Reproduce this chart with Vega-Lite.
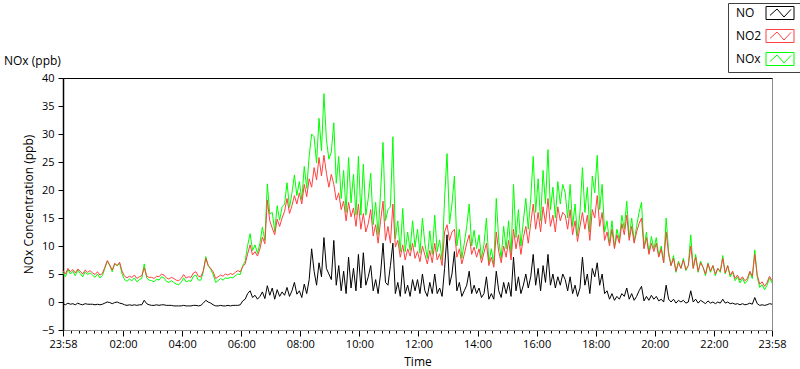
{
"$schema":"https://vega.github.io/schema/vega-lite/v6.json",
"width":709,"height":252,
"autosize":{"type":"none"},
"padding":{"left":63,"top":78,"right":28,"bottom":39},
"background":"white",
"config":{"view":{"stroke":"#8c8c8c","strokeWidth":1},"font":"Open Sans",
 "axis":{"labelFont":"Open Sans","titleFont":"Open Sans","labelColor":"#000","titleColor":"#000","tickColor":"#000","grid":false,"titleFontWeight":"normal"}},
"title":{"text":"NOx (ppb)","anchor":"start","frame":"group","dx":-59,"dy":86,"offset":12,"baseline":"alphabetic","fontSize":12,"fontWeight":"normal","font":"Open Sans","color":"#000"},
"data":{"values":[
{"m":-2,"a":-0.3,"b":5.6,"c":5.3},{"m":3,"a":-0.5,"b":5.0,"c":4.5},{"m":8,"a":-0.2,"b":6.0,"c":5.8},{"m":13,"a":-0.4,"b":5.4,"c":5.0},{"m":18,"a":-0.3,"b":5.8,"c":5.5},{"m":23,"a":-0.5,"b":5.2,"c":4.7},{"m":28,"a":-0.2,"b":5.9,"c":5.7},{"m":33,"a":-0.4,"b":5.5,"c":5.1},{"m":38,"a":-0.5,"b":5.0,"c":4.5},{"m":43,"a":-0.3,"b":5.7,"c":5.4},{"m":48,"a":-0.4,"b":5.3,"c":4.9},{"m":53,"a":-0.4,"b":5.6,"c":5.2},
{"m":58,"a":-0.4,"b":5.2,"c":4.8},{"m":63,"a":-0.5,"b":4.9,"c":4.4},{"m":68,"a":-0.4,"b":5.4,"c":5.0},{"m":73,"a":-0.5,"b":4.8,"c":4.3},{"m":78,"a":-0.4,"b":5.1,"c":4.7},{"m":83,"a":-0.2,"b":6.2,"c":6.0},{"m":88,"a":0.0,"b":7.4,"c":7.3},{"m":93,"a":-0.1,"b":6.6,"c":6.5},{"m":98,"a":-0.3,"b":5.7,"c":5.4},{"m":103,"a":-0.1,"b":6.9,"c":6.8},{"m":108,"a":0.0,"b":6.5,"c":6.5},{"m":113,"a":-0.2,"b":7.1,"c":6.9},
{"m":118,"a":-0.3,"b":5.5,"c":5.0},{"m":123,"a":-0.5,"b":4.6,"c":4.0},{"m":128,"a":-0.6,"b":4.3,"c":3.7},{"m":133,"a":-0.5,"b":4.6,"c":4.1},{"m":138,"a":-0.6,"b":4.4,"c":3.8},{"m":143,"a":-0.5,"b":4.8,"c":4.3},{"m":148,"a":-0.6,"b":4.2,"c":3.6},{"m":153,"a":-0.5,"b":4.5,"c":4.0},{"m":158,"a":-0.5,"b":4.7,"c":4.2},{"m":163,"a":0.3,"b":6.1,"c":6.8},{"m":168,"a":-0.3,"b":4.6,"c":4.3},{"m":173,"a":-0.5,"b":4.4,"c":3.9},
{"m":178,"a":-0.6,"b":4.4,"c":3.8},{"m":183,"a":-0.6,"b":4.2,"c":3.6},{"m":188,"a":-0.5,"b":4.6,"c":4.1},{"m":193,"a":-0.6,"b":4.5,"c":3.9},{"m":198,"a":-0.5,"b":5.0,"c":4.5},{"m":203,"a":-0.5,"b":4.8,"c":4.3},{"m":208,"a":-0.6,"b":4.3,"c":3.7},{"m":213,"a":-0.6,"b":4.1,"c":3.5},{"m":218,"a":-0.6,"b":4.4,"c":3.8},{"m":223,"a":-0.7,"b":4.2,"c":3.5},{"m":228,"a":-0.7,"b":3.9,"c":3.2},{"m":233,"a":-0.7,"b":3.8,"c":3.1},
{"m":238,"a":-0.7,"b":4.2,"c":3.5},{"m":243,"a":-0.6,"b":4.9,"c":4.3},{"m":248,"a":-0.7,"b":4.3,"c":3.6},{"m":253,"a":-0.7,"b":4.5,"c":3.8},{"m":258,"a":-0.7,"b":4.4,"c":3.7},{"m":263,"a":-0.6,"b":5.2,"c":4.6},{"m":268,"a":-0.6,"b":5.4,"c":4.8},{"m":273,"a":-0.7,"b":4.6,"c":3.9},{"m":278,"a":-0.6,"b":4.5,"c":3.9},{"m":283,"a":-0.2,"b":5.6,"c":5.4},{"m":288,"a":0.3,"b":7.8,"c":8.1},{"m":293,"a":0.0,"b":6.5,"c":6.5},
{"m":298,"a":-0.2,"b":6.0,"c":5.8},{"m":303,"a":-0.5,"b":5.4,"c":4.9},{"m":308,"a":-0.7,"b":4.2,"c":3.5},{"m":313,"a":-0.7,"b":4.5,"c":3.8},{"m":318,"a":-0.6,"b":4.8,"c":4.2},{"m":323,"a":-0.7,"b":4.6,"c":3.9},{"m":328,"a":-0.7,"b":5.0,"c":4.3},{"m":333,"a":-0.6,"b":4.8,"c":4.2},{"m":338,"a":-0.7,"b":5.1,"c":4.4},{"m":343,"a":-0.6,"b":4.9,"c":4.3},{"m":348,"a":-0.6,"b":5.3,"c":4.7},{"m":353,"a":-0.6,"b":5.6,"c":5.0},
{"m":358,"a":-0.5,"b":5.4,"c":4.9},{"m":363,"a":0.2,"b":6.3,"c":6.5},{"m":368,"a":0.5,"b":6.8,"c":7.3},{"m":373,"a":1.5,"b":8.6,"c":10.1},{"m":378,"a":2.0,"b":10.2,"c":12.2},{"m":383,"a":0.8,"b":8.4,"c":9.2},{"m":388,"a":1.2,"b":9.0,"c":10.2},{"m":393,"a":0.5,"b":8.2,"c":8.7},{"m":398,"a":1.0,"b":9.5,"c":10.5},{"m":403,"a":1.8,"b":11.6,"c":13.4},{"m":408,"a":0.6,"b":10.4,"c":11.0},{"m":413,"a":2.9,"b":18.2,"c":21.1},
{"m":418,"a":1.2,"b":14.5,"c":15.7},{"m":423,"a":2.5,"b":13.2,"c":16.0},{"m":428,"a":0.5,"b":12.0,"c":12.6},{"m":433,"a":2.2,"b":14.8,"c":17.2},{"m":438,"a":1.0,"b":13.5,"c":14.6},{"m":443,"a":1.8,"b":15.0,"c":17.0},{"m":448,"a":1.2,"b":16.2,"c":17.5},{"m":453,"a":2.6,"b":18.5,"c":21.3},{"m":458,"a":1.0,"b":15.8,"c":16.9},{"m":463,"a":2.0,"b":17.2,"c":19.4},{"m":468,"a":3.5,"b":19.0,"c":22.7},{"m":473,"a":1.4,"b":17.5,"c":19.0},
{"m":478,"a":2.0,"b":19.5,"c":21.5},{"m":483,"a":0.8,"b":17.5,"c":18.3},{"m":488,"a":3.2,"b":21.0,"c":24.2},{"m":493,"a":1.5,"b":18.8,"c":20.3},{"m":498,"a":4.0,"b":22.0,"c":26.0},{"m":503,"a":9.5,"b":20.5,"c":30.0},{"m":508,"a":5.5,"b":24.0,"c":29.5},{"m":513,"a":3.0,"b":21.8,"c":24.8},{"m":518,"a":7.0,"b":25.8,"c":32.8},{"m":523,"a":4.5,"b":22.5,"c":27.0},{"m":528,"a":11.5,"b":26.2,"c":37.2},{"m":533,"a":6.0,"b":23.0,"c":29.0},
{"m":538,"a":5.0,"b":20.5,"c":25.5},{"m":543,"a":4.0,"b":22.8,"c":26.8},{"m":548,"a":11.0,"b":21.0,"c":32.0},{"m":553,"a":3.0,"b":18.2,"c":21.2},{"m":558,"a":6.5,"b":19.5,"c":26.0},{"m":563,"a":2.0,"b":16.5,"c":18.5},{"m":568,"a":5.5,"b":18.0,"c":23.5},{"m":573,"a":1.5,"b":14.5,"c":16.0},{"m":578,"a":8.0,"b":17.8,"c":25.8},{"m":583,"a":2.5,"b":15.2,"c":17.7},{"m":588,"a":6.0,"b":16.8,"c":22.8},{"m":593,"a":2.0,"b":13.5,"c":15.5},
{"m":598,"a":8.5,"b":17.5,"c":26.0},{"m":603,"a":2.5,"b":13.0,"c":15.5},{"m":608,"a":8.8,"b":15.8,"c":24.6},{"m":613,"a":3.0,"b":12.5,"c":15.5},{"m":618,"a":4.5,"b":14.0,"c":18.5},{"m":623,"a":6.5,"b":16.5,"c":23.0},{"m":628,"a":2.0,"b":11.8,"c":13.8},{"m":633,"a":4.0,"b":13.8,"c":17.8},{"m":638,"a":1.5,"b":10.5,"c":12.0},{"m":643,"a":5.0,"b":14.5,"c":19.5},{"m":648,"a":10.5,"b":18.0,"c":28.5},{"m":653,"a":3.5,"b":11.0,"c":14.5},
{"m":658,"a":3.0,"b":13.5,"c":16.5},{"m":663,"a":6.5,"b":10.5,"c":17.0},{"m":668,"a":10.5,"b":17.5,"c":29.5},{"m":673,"a":1.5,"b":9.8,"c":11.3},{"m":678,"a":3.5,"b":11.0,"c":14.5},{"m":683,"a":1.0,"b":8.0,"c":9.0},{"m":688,"a":6.5,"b":10.2,"c":16.7},{"m":693,"a":1.5,"b":7.5,"c":9.0},{"m":698,"a":3.0,"b":9.5,"c":12.5},{"m":703,"a":1.0,"b":8.2,"c":9.2},{"m":708,"a":4.0,"b":10.5,"c":14.5},{"m":713,"a":2.0,"b":7.8,"c":9.8},
{"m":718,"a":4.0,"b":9.0,"c":13.0},{"m":723,"a":1.5,"b":7.2,"c":8.7},{"m":728,"a":5.0,"b":10.0,"c":15.0},{"m":733,"a":2.0,"b":8.4,"c":10.4},{"m":738,"a":1.0,"b":6.8,"c":7.8},{"m":743,"a":3.5,"b":9.2,"c":12.7},{"m":748,"a":1.5,"b":7.0,"c":8.5},{"m":753,"a":5.0,"b":10.5,"c":15.5},{"m":758,"a":1.5,"b":7.5,"c":9.0},{"m":763,"a":2.5,"b":8.6,"c":11.1},{"m":768,"a":1.0,"b":6.5,"c":7.5},{"m":773,"a":6.0,"b":12.5,"c":18.5},
{"m":778,"a":12.0,"b":13.8,"c":26.5},{"m":783,"a":3.0,"b":11.0,"c":14.0},{"m":788,"a":5.0,"b":12.5,"c":17.5},{"m":793,"a":9.0,"b":13.0,"c":22.5},{"m":798,"a":2.0,"b":8.0,"c":10.0},{"m":803,"a":3.5,"b":9.5,"c":13.0},{"m":808,"a":1.0,"b":6.8,"c":7.8},{"m":813,"a":2.0,"b":8.5,"c":10.5},{"m":818,"a":3.0,"b":10.5,"c":13.5},{"m":823,"a":5.5,"b":12.0,"c":17.5},{"m":828,"a":1.5,"b":8.5,"c":10.0},{"m":833,"a":3.0,"b":9.8,"c":12.8},
{"m":838,"a":1.5,"b":8.0,"c":9.5},{"m":843,"a":2.5,"b":9.5,"c":12.0},{"m":848,"a":0.8,"b":7.0,"c":7.8},{"m":853,"a":1.5,"b":8.8,"c":10.3},{"m":858,"a":4.5,"b":10.5,"c":15.0},{"m":863,"a":0.5,"b":6.5,"c":7.0},{"m":868,"a":1.5,"b":8.0,"c":9.5},{"m":873,"a":0.5,"b":6.2,"c":6.7},{"m":878,"a":5.5,"b":12.5,"c":18.5},{"m":883,"a":2.0,"b":9.0,"c":11.0},{"m":888,"a":0.8,"b":7.0,"c":7.8},{"m":893,"a":3.5,"b":10.0,"c":13.5},
{"m":898,"a":1.5,"b":8.0,"c":9.5},{"m":903,"a":3.5,"b":11.0,"c":14.5},{"m":908,"a":1.0,"b":7.5,"c":8.5},{"m":913,"a":8.0,"b":13.0,"c":21.0},{"m":918,"a":2.0,"b":9.5,"c":11.5},{"m":923,"a":4.5,"b":12.0,"c":16.5},{"m":928,"a":1.5,"b":8.5,"c":10.0},{"m":933,"a":3.0,"b":11.5,"c":14.5},{"m":938,"a":5.0,"b":13.5,"c":18.5},{"m":943,"a":2.5,"b":10.5,"c":13.0},{"m":948,"a":4.5,"b":14.0,"c":18.5},{"m":953,"a":8.5,"b":17.5,"c":26.0},
{"m":958,"a":3.0,"b":13.0,"c":16.0},{"m":963,"a":6.0,"b":16.0,"c":22.0},{"m":968,"a":2.0,"b":12.5,"c":14.5},{"m":973,"a":6.5,"b":17.0,"c":23.5},{"m":978,"a":3.5,"b":14.0,"c":17.5},{"m":983,"a":8.5,"b":18.5,"c":27.2},{"m":988,"a":3.0,"b":13.5,"c":16.5},{"m":993,"a":5.0,"b":15.5,"c":20.5},{"m":998,"a":2.5,"b":12.5,"c":15.0},{"m":1003,"a":4.5,"b":17.0,"c":21.5},{"m":1008,"a":3.0,"b":14.5,"c":17.5},{"m":1013,"a":5.0,"b":16.0,"c":21.0},
{"m":1018,"a":4.0,"b":15.5,"c":19.5},{"m":1023,"a":2.0,"b":13.0,"c":15.0},{"m":1028,"a":4.5,"b":16.5,"c":21.0},{"m":1033,"a":1.5,"b":12.0,"c":13.5},{"m":1038,"a":3.0,"b":14.5,"c":17.5},{"m":1043,"a":1.0,"b":10.8,"c":11.8},{"m":1048,"a":2.5,"b":13.5,"c":16.0},{"m":1053,"a":8.0,"b":16.0,"c":24.0},{"m":1058,"a":3.0,"b":13.0,"c":16.0},{"m":1063,"a":5.0,"b":15.5,"c":20.5},{"m":1068,"a":1.5,"b":11.0,"c":12.5},{"m":1073,"a":6.0,"b":16.5,"c":22.5},
{"m":1078,"a":4.5,"b":15.0,"c":19.5},{"m":1083,"a":7.0,"b":19.0,"c":26.2},{"m":1088,"a":3.0,"b":13.5,"c":16.5},{"m":1093,"a":5.0,"b":16.0,"c":21.0},{"m":1098,"a":1.5,"b":11.0,"c":12.5},{"m":1103,"a":2.0,"b":12.5,"c":14.5},{"m":1108,"a":0.5,"b":10.0,"c":10.5},{"m":1113,"a":1.5,"b":13.0,"c":14.5},{"m":1118,"a":0.3,"b":9.5,"c":9.8},{"m":1123,"a":1.0,"b":12.0,"c":13.0},{"m":1128,"a":0.5,"b":10.5,"c":11.0},{"m":1133,"a":1.5,"b":14.0,"c":15.5},
{"m":1138,"a":1.0,"b":12.0,"c":13.0},{"m":1143,"a":2.5,"b":15.5,"c":18.0},{"m":1148,"a":0.5,"b":11.0,"c":11.5},{"m":1153,"a":1.5,"b":13.5,"c":15.0},{"m":1158,"a":0.3,"b":10.5,"c":10.8},{"m":1163,"a":1.0,"b":12.5,"c":13.5},{"m":1168,"a":2.0,"b":14.0,"c":16.0},{"m":1173,"a":2.8,"b":15.0,"c":17.8},{"m":1178,"a":0.2,"b":9.5,"c":9.7},{"m":1183,"a":1.0,"b":11.5,"c":12.5},{"m":1188,"a":0.3,"b":8.5,"c":8.8},{"m":1193,"a":1.2,"b":10.5,"c":11.7},
{"m":1198,"a":0.5,"b":9.0,"c":9.5},{"m":1203,"a":1.0,"b":10.5,"c":11.5},{"m":1208,"a":0.2,"b":8.0,"c":8.2},{"m":1213,"a":0.5,"b":9.5,"c":10.0},{"m":1218,"a":0.0,"b":7.0,"c":7.0},{"m":1223,"a":3.0,"b":12.5,"c":15.0},{"m":1228,"a":0.5,"b":8.5,"c":9.0},{"m":1233,"a":0.0,"b":6.5,"c":6.5},{"m":1238,"a":0.5,"b":7.8,"c":8.3},{"m":1243,"a":-0.2,"b":5.5,"c":5.3},{"m":1248,"a":0.3,"b":7.0,"c":7.3},{"m":1253,"a":0.0,"b":6.0,"c":6.0},
{"m":1258,"a":0.3,"b":7.5,"c":7.8},{"m":1263,"a":-0.2,"b":5.8,"c":5.6},{"m":1268,"a":0.0,"b":6.5,"c":6.5},{"m":1273,"a":2.0,"b":10.0,"c":12.0},{"m":1278,"a":0.0,"b":6.0,"c":6.0},{"m":1283,"a":0.5,"b":8.0,"c":8.5},{"m":1288,"a":-0.2,"b":5.5,"c":5.3},{"m":1293,"a":0.3,"b":7.0,"c":7.3},{"m":1298,"a":0.0,"b":6.2,"c":6.2},{"m":1303,"a":-0.3,"b":5.0,"c":4.7},{"m":1308,"a":0.2,"b":6.8,"c":7.0},{"m":1313,"a":-0.2,"b":5.5,"c":5.3},
{"m":1318,"a":0.0,"b":6.5,"c":6.5},{"m":1323,"a":-0.3,"b":5.0,"c":4.7},{"m":1328,"a":0.0,"b":6.0,"c":6.0},{"m":1333,"a":-0.2,"b":5.5,"c":5.3},{"m":1338,"a":0.5,"b":7.8,"c":8.3},{"m":1343,"a":-0.2,"b":5.2,"c":5.0},{"m":1348,"a":0.0,"b":6.5,"c":6.5},{"m":1353,"a":-0.3,"b":4.8,"c":4.5},{"m":1358,"a":-0.2,"b":5.5,"c":5.3},{"m":1363,"a":-0.4,"b":4.2,"c":3.8},{"m":1368,"a":-0.3,"b":4.8,"c":4.5},{"m":1373,"a":-0.5,"b":3.9,"c":3.4},
{"m":1378,"a":-0.3,"b":4.5,"c":4.2},{"m":1383,"a":-0.5,"b":3.8,"c":3.3},{"m":1388,"a":-0.4,"b":4.2,"c":3.8},{"m":1393,"a":-0.2,"b":5.5,"c":5.3},{"m":1398,"a":-0.4,"b":4.6,"c":4.2},{"m":1403,"a":0.8,"b":8.5,"c":9.3},{"m":1408,"a":-0.3,"b":4.8,"c":4.5},{"m":1413,"a":-0.6,"b":3.2,"c":2.6},{"m":1418,"a":-0.5,"b":3.6,"c":3.1},{"m":1423,"a":-0.6,"b":2.8,"c":2.2},{"m":1428,"a":-0.5,"b":3.5,"c":3.0},{"m":1433,"a":-0.3,"b":4.6,"c":4.3},{"m":1438,"a":-0.4,"b":3.8,"c":3.4}
]},
"resolve":{"axis":{"x":"independent"}},
"layer":[
{"mark":{"type":"line","strokeWidth":1},
 "encoding":{
  "x":{"field":"m","type":"quantitative","scale":{"domain":[-2,1438],"nice":false,"zero":false},
   "axis":{"orient":"bottom","values":[-2,15,30,45,60,75,90,105,120,135,150,165,180,195,210,225,240,255,270,285,300,315,330,345,360,375,390,405,420,435,450,465,480,495,510,525,540,555,570,585,600,615,630,645,660,675,690,705,720,735,750,765,780,795,810,825,840,855,870,885,900,915,930,945,960,975,990,1005,1020,1035,1050,1065,1080,1095,1110,1125,1140,1155,1170,1185,1200,1215,1230,1245,1260,1275,1290,1305,1320,1335,1350,1365,1380,1395,1410,1425,1438],
    "labelExpr":"datum.value==-2||datum.value==1438?'23:58':(datum.value%120==0?format(datum.value/60,'02d')+':00':'')",
    "tickSize":{"condition":{"test":"datum.value%120==0||datum.value==-2||datum.value==1438","value":6},"value":3},
    "labelFlush":false,"labelOverlap":false,"labelFontSize":11,"labelPadding":2,"domainColor":"#8c8c8c","title":"Time","titleFontSize":12,"titlePadding":7}},
  "y":{"field":"c","type":"quantitative","scale":{"domain":[-5,40],"nice":false,"zero":false},
   "axis":{"values":[-5,0,5,10,15,20,25,30,35,40],"tickSize":5,"labelPadding":4,"labelFontSize":11,"domainColor":"#000","domainWidth":1.5,"title":"NOx Concentration (ppb)","titleFontSize":12,"titlePadding":6}},
  "color":{"datum":"NOx","scale":{"domain":["NO","NO2","NOx"],"range":["#000000","#ff4040","#00ff00"]},
   "legend":{"orient":"none","legendX":665,"legendY":-75,"title":null,"symbolType":"M7,-1.625H14V1.625H7ZM8,0.6L9.75,-1L11.5,1L13.25,-0.9","symbolSize":64,"symbolStrokeWidth":1,"labelFont":"Open Sans","labelFontSize":12,"labelColor":"#000","labelOffset":-8,"rowPadding":5,"padding":4,"strokeColor":"#404040","encode":{"symbols":{"update":{"fill":{"value":"transparent"}}}}}}
 }},
{"mark":{"type":"line","strokeWidth":1},
 "encoding":{
  "x":{"field":"m","type":"quantitative","axis":null},
  "y":{"field":"b","type":"quantitative","axis":{"values":[-5,0,5,10,15,20,25,30,35,40],"tickSize":5,"labelPadding":4,"labelFontSize":11,"domainColor":"#000","domainWidth":1.5,"title":"NOx Concentration (ppb)","titleFontSize":12,"titlePadding":6}},
  "color":{"datum":"NO2"}
 }},
{"mark":{"type":"line","strokeWidth":1},
 "encoding":{
  "x":{"field":"m","type":"quantitative","axis":{"orient":"top","labels":false,"ticks":false,"domainColor":"#000","title":null}},
  "y":{"field":"a","type":"quantitative","axis":{"values":[-5,0,5,10,15,20,25,30,35,40],"tickSize":5,"labelPadding":4,"labelFontSize":11,"domainColor":"#000","domainWidth":1.5,"title":"NOx Concentration (ppb)","titleFontSize":12,"titlePadding":6}},
  "color":{"datum":"NO"}
 }}
]
}
